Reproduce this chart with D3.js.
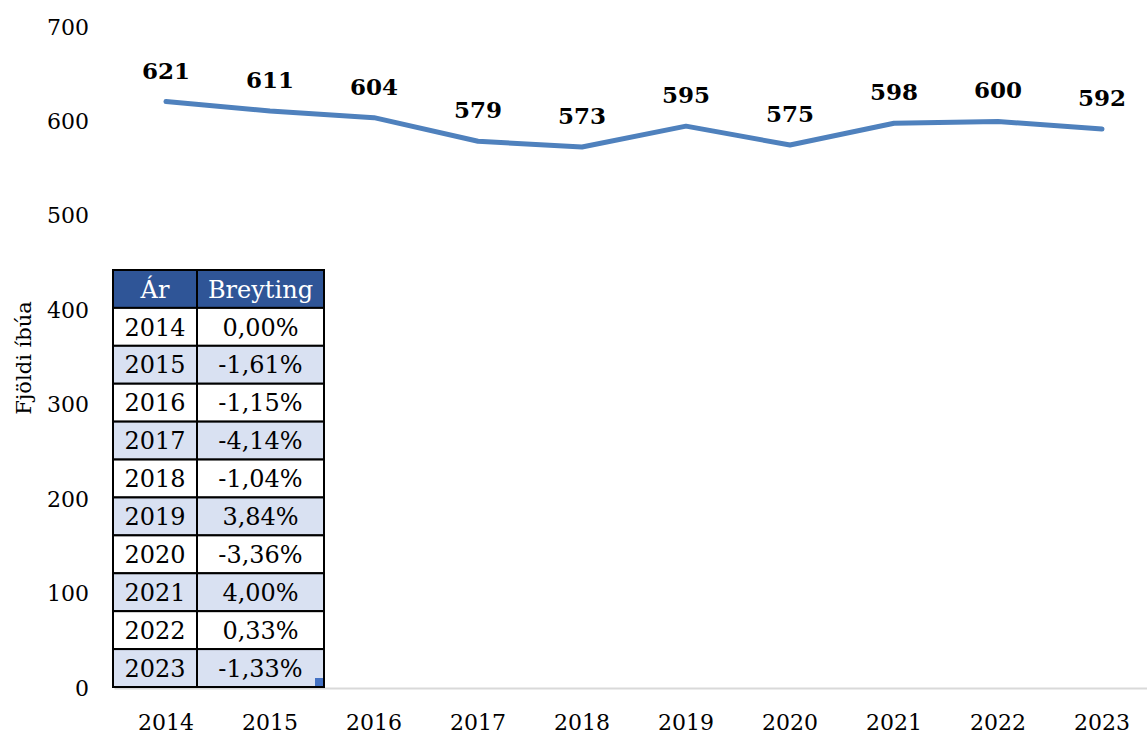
<!DOCTYPE html>
<html>
<head>
<meta charset="utf-8">
<script src="https://cdn.jsdelivr.net/npm/d3@7"></script>
<style>
  body { margin: 0; background: #fff; }
  svg { display: block; font-family: "DejaVu Serif", serif; }
</style>
</head>
<body>
<svg id="chart" width="1147" height="734"></svg>
<script>
// chart data
const years = ['2014', '2015', '2016', '2017', '2018', '2019', '2020', '2021', '2022', '2023'];
const residents = [621, 611, 604, 579, 573, 595, 575, 598, 600, 592];
const changes = ['0,00%', '-1,61%', '-1,15%', '-4,14%', '-1,04%', '3,84%', '-3,36%', '4,00%', '0,33%', '-1,33%'];
const yTicks = [0, 100, 200, 300, 400, 500, 600, 700];
const tableHead = ['Ár', 'Breyting'];

const svg = d3.select('#chart');
const margin = { left: 114, right: -7, top: 27, bottom: 46 };
const width = 1147 - margin.right;
const height = 734 - margin.bottom;

const xScale = d3.scaleBand()
  .domain(years)
  .range([margin.left, width]);

const yScale = d3.scaleLinear()
  .domain([0, 700])
  .range([height, margin.top]);

// y axis labels
const yAxis = svg.append('g')
  .attr('transform', `translate(${margin.left - 25},0)`)
  .call(d3.axisLeft(yScale).tickValues(yTicks).tickSize(0).tickPadding(0));
yAxis.select('.domain').remove();
yAxis.selectAll('text')
  .style('font-family', '"DejaVu Serif", serif')
  .style('font-size', '22px')
  .attr('fill', '#000');

// x axis
const xAxis = svg.append('g')
  .attr('transform', `translate(0,${height})`)
  .call(d3.axisBottom(xScale).tickSize(0).tickPadding(26));
xAxis.select('.domain').attr('stroke', '#d9d9d9').attr('stroke-width', 2);
xAxis.selectAll('text')
  .style('font-family', '"DejaVu Serif", serif')
  .style('font-size', '22px')
  .attr('fill', '#000');

// axis title
svg.append('text')
  .attr('transform', `translate(31,358) rotate(-90)`)
  .attr('text-anchor', 'middle')
  .style('font-size', '21px')
  .text('Fjöldi íbúa');

// line
const line = d3.line()
  .x((d, i) => xScale(years[i]) + xScale.bandwidth() / 2)
  .y(d => yScale(d));

svg.append('path')
  .datum(residents)
  .attr('d', line)
  .attr('fill', 'none')
  .attr('stroke', '#4f81bd')
  .attr('stroke-width', 5)
  .attr('stroke-linejoin', 'round')
  .attr('stroke-linecap', 'round');

svg.selectAll('.data-label')
  .data(residents)
  .enter().append('text')
  .attr('class', 'data-label')
  .attr('x', (d, i) => xScale(years[i]) + xScale.bandwidth() / 2)
  .attr('y', d => yScale(d) - 23)
  .attr('text-anchor', 'middle')
  .style('font-size', '23px')
  .style('font-weight', 'bold')
  .text(d => d);

// table of yearly change
const rowScale = d3.scaleBand()
  .domain(['head'].concat(years))
  .range([270, 687]);
const colEdges = [113, 197, 324];

const table = svg.append('g');

table.selectAll('.row-bg')
  .data(['head'].concat(years))
  .enter().append('rect')
  .attr('x', colEdges[0])
  .attr('y', d => rowScale(d))
  .attr('width', colEdges[2] - colEdges[0])
  .attr('height', rowScale.bandwidth())
  .attr('fill', (d, i) => i === 0 ? '#2f5597' : (i % 2 === 0 ? '#d9e1f2' : '#fff'))
  .attr('stroke', '#000')
  .attr('stroke-width', 2);

table.append('line')
  .attr('x1', colEdges[1]).attr('x2', colEdges[1])
  .attr('y1', 270).attr('y2', 687)
  .attr('stroke', '#000')
  .attr('stroke-width', 2);

tableHead.forEach((h, c) => {
  table.append('text')
    .attr('x', (colEdges[c] + colEdges[c + 1]) / 2)
    .attr('y', rowScale('head') + rowScale.bandwidth() / 2)
    .attr('dy', '0.36em')
    .attr('text-anchor', 'middle')
    .attr('fill', '#fff')
    .style('font-size', '24px')
    .text(h);
});

years.forEach((yr, i) => {
  [yr, changes[i]].forEach((v, c) => {
    table.append('text')
      .attr('x', (colEdges[c] + colEdges[c + 1]) / 2)
      .attr('y', rowScale(yr) + rowScale.bandwidth() / 2)
      .attr('dy', '0.36em')
      .attr('text-anchor', 'middle')
      .attr('fill', '#000')
      .style('font-size', '24px')
      .text(v);
  });
});

// resize handle
table.append('rect')
  .attr('x', colEdges[2] - 9)
  .attr('y', 678)
  .attr('width', 8)
  .attr('height', 8)
  .attr('fill', '#4472c4');
</script>
</body>
</html>
